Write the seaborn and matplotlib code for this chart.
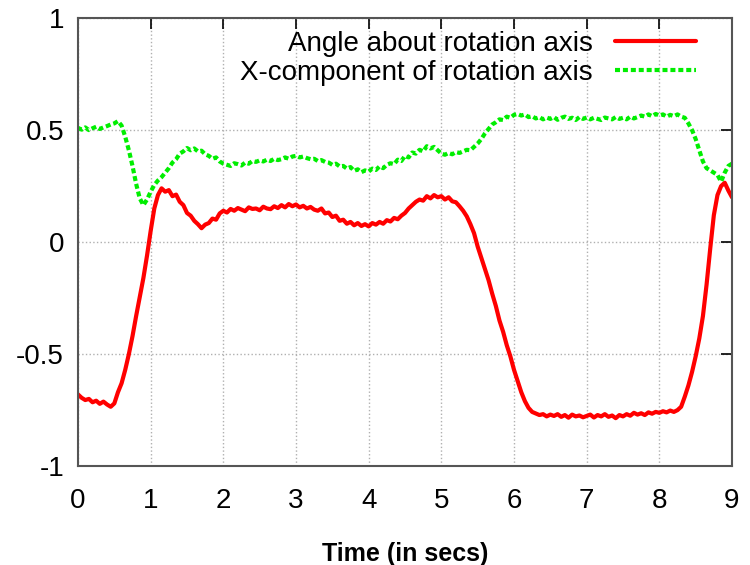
import numpy as np
import pandas as pd
import matplotlib
matplotlib.use("Agg")
import matplotlib.pyplot as plt
import seaborn as sns

# sample times (every 0.05 s)
time = np.round(np.arange(0, 181) * 0.05, 2)

angle = [
    -0.680, -0.695, -0.705, -0.700, -0.715, -0.708, -0.722, -0.712, -0.725, -0.735,
    -0.720, -0.670, -0.630, -0.570, -0.500, -0.420, -0.330, -0.245, -0.160, -0.060,
    0.050, 0.150, 0.210, 0.240, 0.225, 0.232, 0.205, 0.212, 0.180, 0.165,
    0.130, 0.118, 0.095, 0.080, 0.062, 0.078, 0.085, 0.105, 0.100, 0.128,
    0.140, 0.132, 0.148, 0.140, 0.152, 0.145, 0.138, 0.155, 0.148, 0.150,
    0.142, 0.158, 0.150, 0.147, 0.160, 0.152, 0.165, 0.155, 0.170, 0.160,
    0.168, 0.155, 0.162, 0.150, 0.157, 0.145, 0.140, 0.150, 0.128, 0.132,
    0.112, 0.118, 0.095, 0.100, 0.082, 0.090, 0.075, 0.085, 0.072, 0.080,
    0.070, 0.085, 0.078, 0.090, 0.082, 0.098, 0.092, 0.108, 0.102, 0.118,
    0.130, 0.150, 0.165, 0.180, 0.190, 0.185, 0.205, 0.195, 0.210, 0.200,
    0.205, 0.190, 0.200, 0.182, 0.178, 0.160, 0.140, 0.115, 0.080, 0.040,
    -0.020, -0.070, -0.120, -0.170, -0.230, -0.285, -0.350, -0.400, -0.460, -0.510,
    -0.570, -0.620, -0.670, -0.710, -0.740, -0.758, -0.765, -0.772, -0.768, -0.778,
    -0.770, -0.776, -0.768, -0.780, -0.772, -0.784, -0.770, -0.778, -0.774, -0.782,
    -0.776, -0.770, -0.783, -0.772, -0.778, -0.768, -0.780, -0.774, -0.786, -0.772,
    -0.778, -0.768, -0.775, -0.762, -0.770, -0.764, -0.772, -0.760, -0.766, -0.758,
    -0.762, -0.755, -0.760, -0.752, -0.758, -0.750, -0.735, -0.690, -0.640, -0.580,
    -0.510, -0.430, -0.330, -0.190, -0.030, 0.120, 0.210, 0.250, 0.265, 0.230,
    0.200,
]

x_comp = [
    0.510, 0.502, 0.512, 0.500, 0.508, 0.515, 0.505, 0.512, 0.518, 0.525,
    0.530, 0.540, 0.520, 0.470, 0.410, 0.340, 0.260, 0.195, 0.165, 0.190,
    0.225, 0.255, 0.275, 0.290, 0.310, 0.330, 0.355, 0.370, 0.395, 0.405,
    0.420, 0.410, 0.418, 0.405, 0.408, 0.392, 0.385, 0.372, 0.378, 0.360,
    0.350, 0.345, 0.340, 0.352, 0.348, 0.342, 0.355, 0.350, 0.362, 0.358,
    0.365, 0.360, 0.368, 0.362, 0.372, 0.366, 0.370, 0.378, 0.372, 0.382,
    0.385, 0.378, 0.382, 0.375, 0.370, 0.372, 0.362, 0.366, 0.358, 0.355,
    0.345, 0.350, 0.338, 0.340, 0.328, 0.335, 0.318, 0.325, 0.312, 0.320,
    0.315, 0.328, 0.322, 0.338, 0.330, 0.345, 0.352, 0.348, 0.368, 0.362,
    0.385, 0.378, 0.400, 0.395, 0.412, 0.405, 0.428, 0.418, 0.425, 0.410,
    0.395, 0.390, 0.398, 0.392, 0.402, 0.398, 0.405, 0.412, 0.410, 0.425,
    0.440, 0.460, 0.485, 0.505, 0.525, 0.535, 0.548, 0.545, 0.560, 0.555,
    0.568, 0.572, 0.565, 0.570, 0.558, 0.562, 0.552, 0.558, 0.548, 0.556,
    0.550, 0.558, 0.546, 0.555, 0.560, 0.550, 0.555, 0.545, 0.558, 0.550,
    0.556, 0.548, 0.555, 0.550, 0.545, 0.556, 0.552, 0.548, 0.558, 0.550,
    0.555, 0.548, 0.560, 0.552, 0.558, 0.565, 0.560, 0.570, 0.562, 0.572,
    0.565, 0.570, 0.560, 0.568, 0.562, 0.570, 0.560, 0.555, 0.530, 0.500,
    0.460, 0.410, 0.360, 0.330, 0.320, 0.310, 0.300, 0.270, 0.310, 0.340,
    0.350,
]

labels = ["Angle about rotation axis", "X-component of rotation axis"]
x_ticks = list(range(0, 10))
y_ticks = [-1, -0.5, 0, 0.5, 1]
y_ticklabels = ["-1", "-0.5", "0", "0.5", "1"]

sns.set_style("white")
plt.rcParams['font.family'] = ['Liberation Sans', 'DejaVu Sans']
plt.rcParams['text.color'] = 'black'
plt.rcParams['axes.labelcolor'] = 'black'
plt.rcParams['xtick.color'] = 'black'
plt.rcParams['ytick.color'] = 'black'

fig = plt.figure(figsize=(7.5, 5.65), dpi=100)
ax = fig.add_axes([0.104, 0.175, 0.872, 0.793])

sns.lineplot(x=time, y=angle, ax=ax, color='#ff0000', linewidth=3,
             label=labels[0])
sns.lineplot(x=time, y=x_comp, ax=ax, color='#00ee00', linewidth=3,
             label=labels[1])
ax.lines[1].set_dashes((1.2, 0.7))

ax.set_xlim(0, 9)
ax.set_ylim(-1, 1)
ax.set_xticks(x_ticks)
ax.set_xticklabels([str(t) for t in x_ticks])
ax.set_yticks(y_ticks)
ax.set_yticklabels(y_ticklabels)

ax.grid(True, color='#b0b0b0', linestyle=':', linewidth=1)
ax.tick_params(direction='in', length=8, width=1.2, top=True, right=True,
               labelsize=20, colors='black', pad=10)
ax.tick_params(axis='x', pad=16)
for s in ax.spines.values():
    s.set_color('#555555')
    s.set_linewidth(1.5)

ax.set_xlabel("Time (in secs)", fontsize=18, fontweight='bold', labelpad=20,
              color='black')
ax.set_ylabel("")

leg = ax.legend(loc='upper right', bbox_to_anchor=(0.97, 1.008), frameon=False,
                markerfirst=False, fontsize=20, handlelength=2.9,
                labelspacing=0.1, handletextpad=0.8, borderaxespad=0.2)
for t in leg.get_texts():
    t.set_ha('right')
    t.set_color('black')
leg._legend_box.align = "right"

fig.savefig("out.png", dpi=100)
